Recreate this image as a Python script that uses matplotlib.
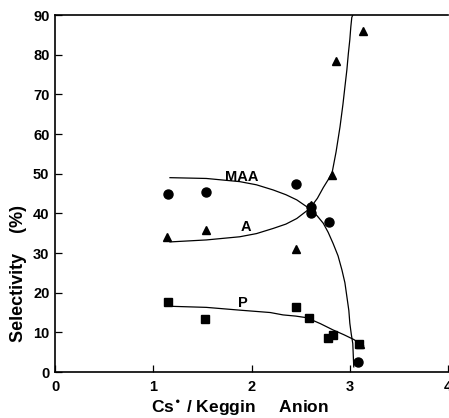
import matplotlib.pyplot as plt

# measured points, Cs+/Keggin anion ratio vs selectivity (%)
maa_x = [1.15, 1.54, 2.45, 2.60, 2.60, 2.79, 3.08]
maa_y = [44.8, 45.3, 47.5, 41.7, 40.0, 37.7, 2.6]

a_x = [1.14, 1.54, 2.45, 2.60, 2.82, 2.86, 3.13, 3.10]
a_y = [34.0, 35.8, 30.9, 42.0, 49.6, 78.4, 86.0, 7.0]

p_x = [1.15, 1.53, 2.45, 2.58, 2.78, 2.83, 3.09]
p_y = [17.6, 13.3, 16.5, 13.5, 8.5, 9.3, 7.1]

# hand-drawn trend curves
maa_cx = [1.17, 1.54, 1.88, 2.05, 2.22, 2.35, 2.46, 2.56, 2.61, 2.67, 2.73, 2.78,
          2.83, 2.88, 2.92, 2.95, 2.97, 2.99, 3.00, 3.015, 3.03, 3.04]
maa_cy = [49.0, 48.8, 48.0, 47.2, 45.9, 44.7, 43.4, 41.7, 40.8, 39.3, 37.5, 35.2,
          32.4, 29.3, 25.7, 22.5, 19.0, 15.5, 12.3, 9.5, 7.2, 1.3]

a_cx = [1.17, 1.54, 1.88, 2.05, 2.22, 2.35, 2.46, 2.56, 2.61, 2.67, 2.73, 2.78,
        2.82, 2.86, 2.90, 2.93, 2.95, 2.97, 2.985, 3.00, 3.01, 3.02, 3.03]
a_cy = [32.8, 33.3, 34.1, 34.9, 36.2, 37.3, 38.7, 40.6, 41.8, 43.8, 46.5, 48.5,
        50.3, 55.5, 61.8, 67.5, 71.9, 76.2, 80.3, 83.8, 87.0, 89.4, 90.0]

p_cx = [1.14, 1.54, 1.88, 2.19, 2.32, 2.45, 2.56, 2.70, 2.83, 2.94, 3.04, 3.14]
p_cy = [16.6, 16.3, 15.6, 15.0, 14.4, 14.1, 13.7, 12.2, 10.6, 9.4, 8.2, 6.6]

curve_labels = ["MAA", "A", "P"]
label_pos = [(1.90, 48.2), (1.94, 35.6), (1.915, 16.4)]

xticks = [0, 1, 2, 3, 4]
yticks = [0, 10, 20, 30, 40, 50, 60, 70, 80, 90]

plt.rcParams["font.family"] = ["Liberation Sans Narrow", "Liberation Sans", "DejaVu Sans"]

fig = plt.figure(figsize=(4.49, 4.18), dpi=100)
ax = fig.add_axes([0.1225, 0.110, 0.8755, 0.854])

for cx, cy in [(maa_cx, maa_cy), (a_cx, a_cy), (p_cx, p_cy)]:
    ax.plot(cx, cy, color="black", lw=0.9, solid_joinstyle="round")

ax.plot(maa_x, maa_y, "o", color="black", ms=6.5, clip_on=False)
ax.plot(a_x, a_y, "^", color="black", ms=6, clip_on=False)
ax.plot(p_x, p_y, "s", color="black", ms=5.5, clip_on=False)

for name, (tx, ty) in zip(curve_labels, label_pos):
    ax.text(tx, ty, name, fontsize=10.5, fontweight="bold", ha="center", va="baseline")

ax.set_xlim(0, 4)
ax.set_ylim(0, 90)
ax.set_xticks(xticks)
ax.set_yticks(yticks)
ax.tick_params(direction="in", length=5, width=0.9, labelsize=10.5)
ax.tick_params(axis="x", pad=6)
ax.tick_params(axis="y", pad=4)
for lab in ax.get_xticklabels() + ax.get_yticklabels():
    lab.set_fontweight("bold")
ax.spines["right"].set_visible(False)
for s in ["left", "bottom", "top"]:
    ax.spines[s].set_linewidth(1.2)

ax.set_xlabel("Cs$^{\\bullet}$ / Keggin     Anion", fontsize=12.5, fontweight="bold")
ax.xaxis.set_label_coords(0.472, -0.074)
ax.set_ylabel("Selectivity    (%)", fontsize=13, fontweight="bold")
ax.yaxis.set_label_coords(-0.07, 0.277)

fig.savefig("out.png", dpi=100)
